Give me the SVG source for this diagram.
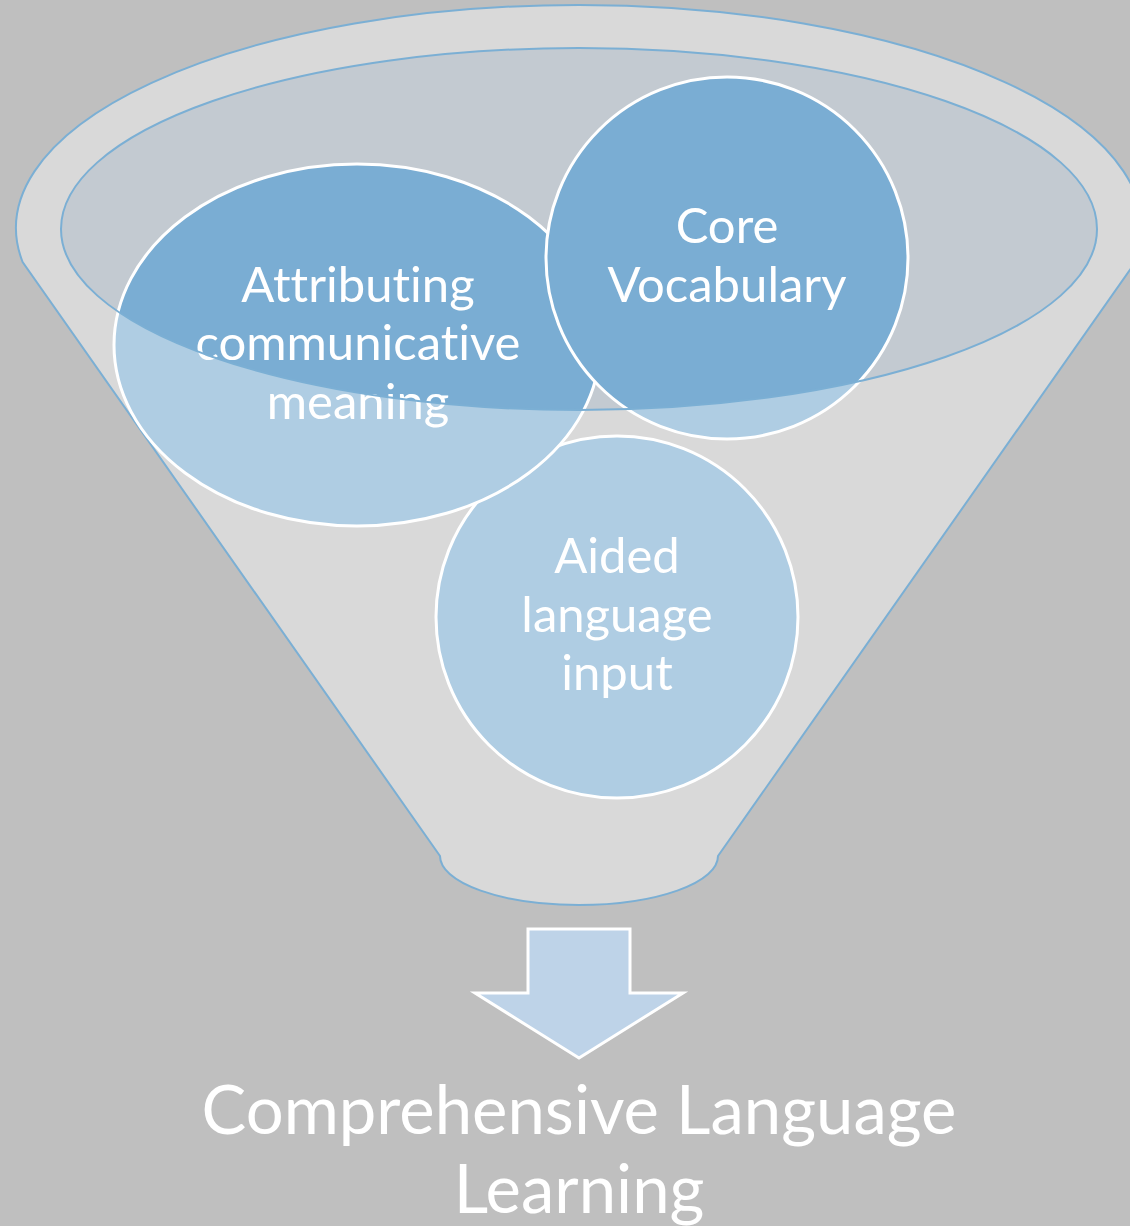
<svg xmlns="http://www.w3.org/2000/svg" width="1130" height="1226" viewBox="0 0 1130 1226">
  <style>
    .rim { fill: none; stroke: #7BAFD4; stroke-width: 2; }
    .light { fill: #AFCDE3; }
    .dark { fill: #7AADD3; }
    .edge { fill: none; stroke: #FFFFFF; stroke-width: 3; }
    .label { fill: #FFFFFF; font-family: Lato, "Liberation Sans", sans-serif; font-size: 49px; text-anchor: middle; font-variant-ligatures: none; }
    .result { fill: #FFFFFF; font-family: Lato, "Liberation Sans", sans-serif; font-size: 67px; text-anchor: middle; font-variant-ligatures: none; }
  </style>
  <defs>
    <clipPath id="bowl">
      <ellipse cx="579" cy="229" rx="518" ry="181"/>
    </clipPath>
  </defs>

  <!-- page background -->
  <rect x="0" y="0" width="1130" height="1226" fill="#BFBFBF"/>

  <!-- funnel body -->
  <g id="funnel">
    <path d="M 22.6 262 A 563 223 0 1 1 1135.4 262 L 718 856 A 139 49 0 0 1 440 856 Z" fill="#D9D9D9" stroke="#7BAFD4" stroke-width="2"/>
    <ellipse cx="579" cy="229" rx="518" ry="181" fill="#C3CAD1"/>
  </g>

  <!-- items dropped into the funnel -->
  <g id="node-aided">
    <circle class="light" cx="617" cy="617" r="181"/>
    <circle class="edge" cx="617" cy="617" r="181"/>
    <text class="label" x="617" y="573">Aided</text>
    <text class="label" x="617" y="632">language</text>
    <text class="label" x="617" y="690">input</text>
  </g>

  <g id="node-attributing">
    <ellipse class="light" cx="357" cy="345" rx="243" ry="181"/>
    <ellipse class="dark" cx="357" cy="345" rx="243" ry="181" clip-path="url(#bowl)"/>
    <ellipse class="edge" cx="357" cy="345" rx="243" ry="181"/>
    <text class="label" x="358" y="302">Attributing</text>
    <text class="label" x="358" y="360">communicative</text>
    <text class="label" x="358" y="419">meaning</text>
  </g>

  <g id="node-core">
    <circle class="light" cx="727" cy="258" r="181"/>
    <circle class="dark" cx="727" cy="258" r="181" clip-path="url(#bowl)"/>
    <circle class="edge" cx="727" cy="258" r="181"/>
    <text class="label" x="727" y="243">Core</text>
    <text class="label" x="727" y="302">Vocabulary</text>
  </g>

  <!-- inner rim of the funnel mouth -->
  <ellipse class="rim" cx="579" cy="229" rx="518" ry="181"/>

  <!-- output arrow -->
  <g id="connectors">
    <polygon points="528,929 630,929 630,993 683,993 579,1058 475,993 528,993" fill="#BED3E8" stroke="#FFFFFF" stroke-width="3"/>
  </g>

  <g id="node-result">
    <text class="result" x="579" y="1134">Comprehensive Language</text>
    <text class="result" x="579" y="1213">Learning</text>
  </g>
</svg>
